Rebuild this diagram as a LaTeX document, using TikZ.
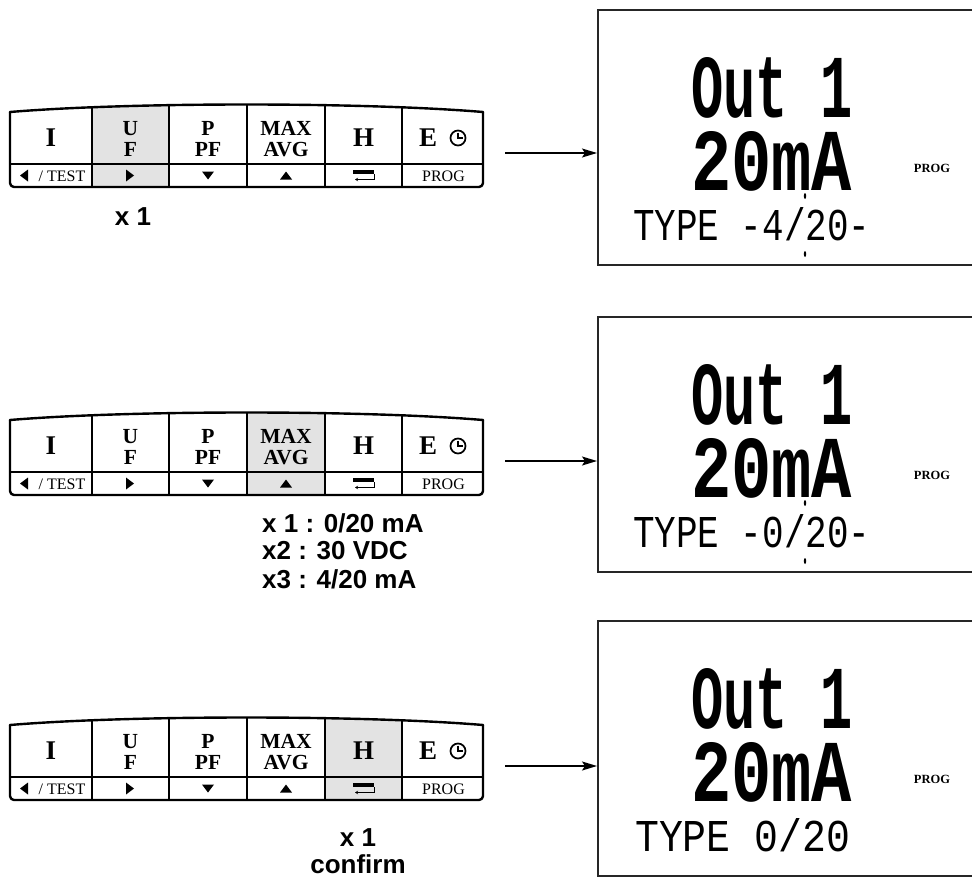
\documentclass[tikz,border=0pt]{standalone}
\usepackage{graphicx}
\usepackage{fontspec}
\setmainfont{Liberation Serif}
\newfontfamily\labelfont{Liberation Sans}
\newfontfamily\segfont{Liberation Mono}
\usetikzlibrary{arrows.meta, calc}

\begin{document}
\begin{tikzpicture}[
    x=1pt, y=-1pt,
    >={Stealth[length=15pt, width=9pt, inset=3pt]},
    keyrim/.style={line width=2.4pt, line join=round, line cap=round},
    keysep/.style={line width=1.9pt},
    keybig/.style={font=\bfseries\fontsize{27}{27}\selectfont, inner sep=0pt},
    keytwo/.style={font=\bfseries\fontsize{21.5}{20.5}\selectfont, align=center, inner sep=0pt},
    keysub/.style={font=\fontsize{16}{16}\selectfont, inner sep=0pt},
    pressed/.style={fill=black!11},
    lcd/.style={draw=black!85, line width=1.8pt, anchor=north west, minimum width=380pt, minimum height=255pt},
    segbig/.style={font=\segfont\bfseries, anchor=north west, inner sep=0pt},
    segthin/.style={font=\segfont, anchor=north west, inner sep=0pt},
    lcdprog/.style={font=\bfseries\fontsize{12.5}{12.5}\selectfont, inner sep=0pt},
    presslabel/.style={font=\labelfont\bfseries\fontsize{26}{26}\selectfont, inner sep=0pt},
    flow/.style={->, line width=1.4pt}
]
\useasboundingbox (0,0) rectangle (972,883);

% three keypads, one highlighted key each
\foreach \n/\T/\hl in {1/112/92, 2/420/247, 3/725/325} {
\begin{scope}[shift={(0,\T)}]
    \begin{scope}
        \clip (10,0) .. controls (130,-10) and (363,-10) .. (483,0) -- (483,75) -- (10,75) -- cycle;
        \fill[pressed] (\hl,-12) rectangle ++(78,90);
        \draw[keysep] (92,-12) -- (92,75);
        \draw[keysep] (169,-12) -- (169,75);
        \draw[keysep] (247,-12) -- (247,75);
        \draw[keysep] (325,-12) -- (325,75);
        \draw[keysep] (402,-12) -- (402,75);
        \draw[keysep] (10,52) -- (483,52);
    \end{scope}
    \draw[keyrim, rounded corners=4pt] (10,0) -- (10,75) -- (483,75) -- (483,0);
    \draw[keyrim] (10,0) .. controls (130,-10) and (363,-10) .. (483,0);

    \node[keybig] (kI\n) at (51,26) {I};
    \node[keytwo] (kU\n) at (130.5,27) {U\\F};
    \node[keytwo] (kP\n) at (208,27) {P\\PF};
    \node[keytwo] (kMax\n) at (286,27) {MAX\\AVG};
    \node[keybig] (kH\n) at (363.5,26) {H};
    \node[keybig] (kE\n) at (428,26) {E};
    \draw[line width=1.7pt] (458,26) circle (7.5);
    \draw[line width=1.5pt] (458,20.5) -- (458,26) -- (462.5,26);

    \fill (28,57.5) -- (28,69.5) -- (20,63.5) -- cycle;
    \node[keysub] (kTest\n) at (62,64) {/ TEST};
    \fill (126,57.5) -- (126,69.5) -- (134,63.5) -- cycle;
    \fill (202,59.5) -- (214,59.5) -- (208,67.5) -- cycle;
    \fill (280,67.5) -- (292,67.5) -- (286,59.5) -- cycle;
    \fill (353,57.5) rectangle (374,62);
    \draw[line width=1pt, -{Stealth[length=3pt, width=3.5pt]}] (374,62) |- (355,67.5);
    \node[keysub] (kProg\n) at (443.5,64) {PROG};

    \coordinate (src\n) at (505,41);
\end{scope}
}

% displays
\node[lcd] (lcd1) at (597,9) {};
\node[lcd] (lcd2) at (597,316) {};
\node[lcd] (lcd3) at (597,620) {};

\draw[flow] (src1) -- (src1 -| lcd1.west);
\draw[flow] (src2) -- (src2 -| lcd2.west);
\draw[flow] (src3) -- (src3 -| lcd3.west);

\node[segbig] (out1) at (691,57) {\resizebox{161pt}{60pt}{Out 1}};
\node[segbig] (ma1) at (691,131) {\resizebox{161pt}{59pt}{20mA}};
\node[segthin] (type1) at (633,207) {\resizebox{237pt}{33pt}{TYPE -4/20-}};
\fill (805,196) ellipse (1.2 and 3);
\fill (805,254) ellipse (1.2 and 3);
\node[lcdprog] (prog1) at (932,168) {PROG};

\node[segbig] (out2) at (691,364) {\resizebox{161pt}{60pt}{Out 1}};
\node[segbig] (ma2) at (691,438) {\resizebox{161pt}{59pt}{20mA}};
\node[segthin] (type2) at (633,514) {\resizebox{237pt}{33pt}{TYPE -0/20-}};
\fill (805,503) ellipse (1.2 and 3);
\fill (805,561) ellipse (1.2 and 3);
\node[lcdprog] (prog2) at (932,475) {PROG};

\node[segbig] (out3) at (691,668) {\resizebox{161pt}{60pt}{Out 1}};
\node[segbig] (ma3) at (691,742) {\resizebox{161pt}{59pt}{20mA}};
\node[segthin] (type3) at (635,818) {\resizebox{215pt}{33pt}{TYPE 0/20}};
\node[lcdprog] (prog3) at (932,779) {PROG};

% key press counts
\node[presslabel] (cnt1) at (133,217) {x 1};
\node[presslabel, anchor=west] (cnt2a) at (262,523) {x 1 : 0/20 mA};
\node[presslabel, anchor=west] (cnt2b) at (262,551) {x2 : 30 VDC};
\node[presslabel, anchor=west] (cnt2c) at (262,579) {x3 : 4/20 mA};
\node[presslabel] (cnt3a) at (358,838) {x 1};
\node[presslabel] (cnt3b) at (358,864) {confirm};

\end{tikzpicture}
\end{document}
